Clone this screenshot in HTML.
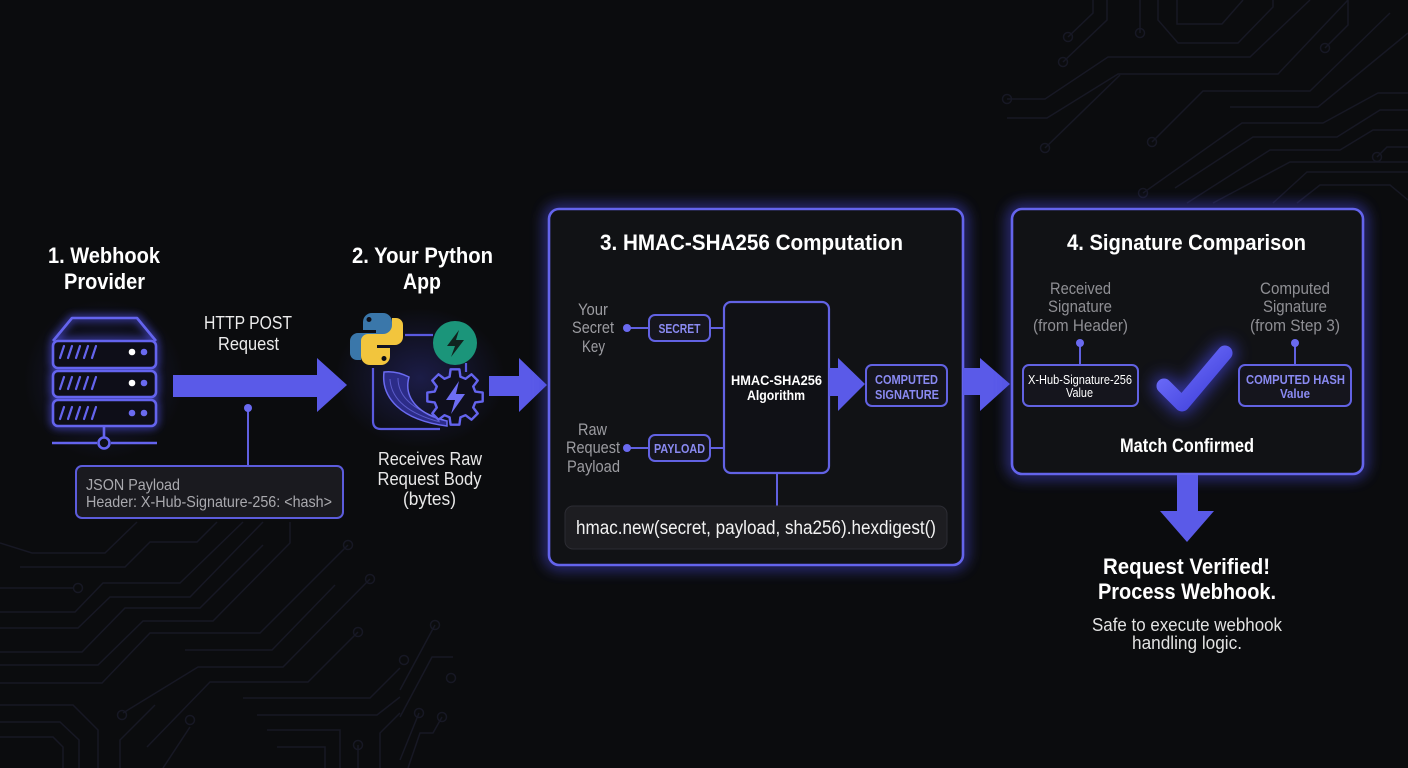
<!DOCTYPE html>
<html><head><meta charset="utf-8"><style>
html,body{margin:0;padding:0;background:#0b0c0e;}
svg{display:block;}
text{font-family:"Liberation Sans",sans-serif;}
</style></head><body>
<svg width="1408" height="768" viewBox="0 0 1408 768" xmlns="http://www.w3.org/2000/svg">
<defs>
<filter id="glow" x="-20%" y="-20%" width="140%" height="140%"><feGaussianBlur stdDeviation="7"/></filter>
<filter id="glowS" x="-50%" y="-50%" width="200%" height="200%"><feGaussianBlur stdDeviation="4"/></filter>
<filter id="glowC" filterUnits="userSpaceOnUse" x="1100" y="290" width="200" height="180"><feGaussianBlur stdDeviation="8"/></filter>
<radialGradient id="appglow" cx="50%" cy="50%" r="50%"><stop offset="0" stop-color="#3a3ab0" stop-opacity="0.35"/><stop offset="1" stop-color="#3a3ab0" stop-opacity="0"/></radialGradient>
<radialGradient id="srvglow" cx="50%" cy="50%" r="50%"><stop offset="0" stop-color="#3a3ab0" stop-opacity="0.3"/><stop offset="1" stop-color="#3a3ab0" stop-opacity="0"/></radialGradient>
<linearGradient id="chk" x1="0" y1="0" x2="1" y2="1"><stop offset="0" stop-color="#7474ff"/><stop offset="1" stop-color="#3c3cd8"/></linearGradient>
</defs>
<rect width="1408" height="768" fill="#0b0c0e"/>

<!-- circuit background top-right -->
<g fill="none" stroke="#171824" stroke-width="1.5">
<polyline points="1007,99 1045,99 1108,57 1250,57 1310,0"/>
<polyline points="1007,118 1047,118 1118,74 1278,74 1348,0"/>
<polyline points="1045,148 1120,75"/>
<polyline points="1152,142 1203,91 1310,91 1390,13"/>
<polyline points="1230,107 1318,107 1408,33"/>
<polyline points="1143,193 1242,123 1323,123 1378,93 1408,93"/>
<polyline points="1068,37 1093,13 1093,0"/>
<polyline points="1063,62 1107,20 1107,0"/>
<polyline points="1140,33 1140,0"/>
<polyline points="1158,0 1158,20 1178,43 1238,43 1273,7 1273,0"/>
<polyline points="1177,0 1177,24 1222,24 1243,0"/>
<polyline points="1325,48 1348,25 1348,0"/>
<polyline points="1175,188 1253,137 1337,137 1380,110 1408,110"/>
<polyline points="1187,203 1270,150 1340,150 1373,130 1408,130"/>
<polyline points="1377,157 1387,147 1408,147"/>
<polyline points="1213,203 1290,162 1357,162 1408,162"/>
<polyline points="1273,203 1307,172 1408,172"/>
<polyline points="1297,203 1320,185 1390,185 1408,200"/>
<circle cx="1007" cy="99" r="4.5"/><circle cx="1045" cy="148" r="4.5"/><circle cx="1068" cy="37" r="4.5"/>
<circle cx="1063" cy="62" r="4.5"/><circle cx="1140" cy="33" r="4.5"/><circle cx="1325" cy="48" r="4.5"/>
<circle cx="1152" cy="142" r="4.5"/><circle cx="1143" cy="193" r="4.5"/><circle cx="1377" cy="157" r="4.5"/>
</g>
<!-- circuit background bottom-left -->
<g fill="none" stroke="#171824" stroke-width="1.5">
<polyline points="0,543 32,553 105,553 137,522"/>
<polyline points="20,567 125,567 150,542 197,542 217,522"/>
<polyline points="0,588 74,588"/>
<polyline points="0,612 75,612 103,583 180,583 243,522"/>
<polyline points="0,628 78,628 110,597 190,597 263,522"/>
<polyline points="0,652 82,652 125,608 200,608 263,545"/>
<polyline points="0,665 98,665 143,621 213,621 290,543 290,522"/>
<polyline points="0,683 102,683 150,633 260,633 348,545"/>
<polyline points="185,650 272,650 335,585"/>
<polyline points="123,713 198,667 283,667 370,579"/>
<polyline points="147,747 210,682 308,682 358,632"/>
<polyline points="0,705 73,705 98,730 98,768"/>
<polyline points="0,722 60,722 79,740 79,768"/>
<polyline points="0,737 53,737 63,747 63,768"/>
<polyline points="120,768 120,740 155,705"/>
<polyline points="163,768 190,727"/>
<polyline points="243,698 370,698 400,668"/>
<polyline points="257,715 377,715 400,697"/>
<polyline points="267,730 340,730 340,768"/>
<polyline points="277,747 325,747 325,768"/>
<polyline points="358,745 358,768"/>
<polyline points="380,768 380,733 400,713"/>
<polyline points="435,625 400,690"/>
<polyline points="453,657 432,657 400,717"/>
<polyline points="442,717 433,733 420,733 408,768"/>
<polyline points="419,713 400,760"/>
<circle cx="78" cy="588" r="4.5"/><circle cx="348" cy="545" r="4.5"/><circle cx="370" cy="579" r="4.5"/>
<circle cx="358" cy="632" r="4.5"/><circle cx="122" cy="715" r="4.5"/><circle cx="190" cy="720" r="4.5"/>
<circle cx="358" cy="745" r="4.5"/><circle cx="435" cy="625" r="4.5"/><circle cx="404" cy="660" r="4.5"/>
<circle cx="451" cy="678" r="4.5"/><circle cx="442" cy="717" r="4.5"/><circle cx="419" cy="713" r="4.5"/>
</g>

<!-- ===== 1. Webhook Provider ===== -->
<text x="104" y="263" text-anchor="middle" font-size="22" font-weight="bold" fill="#fff" textLength="112" lengthAdjust="spacingAndGlyphs">1. Webhook</text>
<text x="104.5" y="289" text-anchor="middle" font-size="22" font-weight="bold" fill="#fff" textLength="81" lengthAdjust="spacingAndGlyphs">Provider</text>

<ellipse cx="104" cy="380" rx="80" ry="80" fill="url(#srvglow)"/>
<g fill="none" stroke="#6464ee" stroke-width="2.6" stroke-linejoin="round">
  <g filter="url(#glowS)" opacity="0.8" stroke="#5050e8" stroke-width="5">
    <path d="M53 341 L72 318 H137 L156 341"/>
    <rect x="53" y="341" width="103" height="27" rx="5"/>
    <rect x="53" y="371" width="103" height="26" rx="5"/>
    <rect x="53" y="400" width="103" height="26" rx="5"/>
  </g>
  <path d="M53 341 L72 318 H137 L156 341"/>
  <rect x="53" y="341" width="103" height="27" rx="5" fill="#0e0e18"/>
  <rect x="53" y="371" width="103" height="26" rx="5" fill="#0e0e18"/>
  <rect x="53" y="400" width="103" height="26" rx="5" fill="#0e0e18"/>
  <line x1="104" y1="426" x2="104" y2="437"/>
  <circle cx="104" cy="443" r="5.5"/>
  <line x1="52" y1="443" x2="97" y2="443"/>
  <line x1="111" y1="443" x2="157" y2="443"/>
  <g stroke-width="2.2" stroke-linecap="round">
    <path d="M64 346 L60 358 M72 346 L68 358 M80 346 L76 358 M88 346 L84 358 M96 346 L92 358"/>
    <path d="M64 377 L60 389 M72 377 L68 389 M80 377 L76 389 M88 377 L84 389 M96 377 L92 389"/>
    <path d="M64 407 L60 419 M72 407 L68 419 M80 407 L76 419 M88 407 L84 419 M96 407 L92 419"/>
  </g>
</g>
<circle cx="132" cy="352" r="3.3" fill="#fff"/><circle cx="144" cy="352" r="3.3" fill="#6a6af0"/>
<circle cx="132" cy="383" r="3.3" fill="#fff"/><circle cx="144" cy="383" r="3.3" fill="#6a6af0"/>
<circle cx="132" cy="413" r="3.3" fill="#6a6af0"/><circle cx="144" cy="413" r="3.3" fill="#6a6af0"/>

<!-- arrow 1 -->
<text x="248" y="329" text-anchor="middle" font-size="18" fill="#ececec" textLength="88" lengthAdjust="spacingAndGlyphs">HTTP POST</text>
<text x="248.5" y="350" text-anchor="middle" font-size="18" fill="#ececec" textLength="61" lengthAdjust="spacingAndGlyphs">Request</text>
<path d="M173 375 H317 V358 L347 385 L317 412 V397 H173 Z" fill="#5a5ae8"/>
<line x1="248" y1="408" x2="248" y2="466" stroke="#6060e0" stroke-width="2"/>
<circle cx="248" cy="408" r="4" fill="#6a6af0"/>
<rect x="76" y="466" width="267" height="52" rx="6" fill="#1a1a1f" stroke="#5c5cdc" stroke-width="2"/>
<text x="86" y="490" font-size="16" fill="#a9a9ae" textLength="94" lengthAdjust="spacingAndGlyphs">JSON Payload</text>
<text x="86" y="507" font-size="16" fill="#a9a9ae" textLength="246" lengthAdjust="spacingAndGlyphs">Header: X-Hub-Signature-256: &lt;hash&gt;</text>

<!-- ===== 2. Your Python App ===== -->
<text x="422.5" y="263" text-anchor="middle" font-size="22" font-weight="bold" fill="#fff" textLength="141" lengthAdjust="spacingAndGlyphs">2. Your Python</text>
<text x="422" y="289" text-anchor="middle" font-size="22" font-weight="bold" fill="#fff" textLength="38" lengthAdjust="spacingAndGlyphs">App</text>
<ellipse cx="420" cy="378" rx="85" ry="70" fill="url(#appglow)"/>
<g fill="none" stroke="#5a5ae0" stroke-width="2.2">
  <line x1="405" y1="335" x2="433" y2="335"/>
  <line x1="466" y1="363" x2="466" y2="372"/>
  <path d="M373 368 V421 Q373 429 381 429 H440"/>
</g>
<!-- python logo -->
<g transform="translate(350,313)">
  <path d="M22 0 h11 a9 9 0 0 1 9 9 v15 a7 7 0 0 1 -7 7 h-15 a9 9 0 0 0 -9 9 v7 h-4 a7 7 0 0 1 -7 -7 v-12 a8 8 0 0 1 8 -8 h18 v-3 h-13 v-8 a9 9 0 0 1 9 -9 z" fill="#3a77aa"/>
  <circle cx="19" cy="6.5" r="2.5" fill="#0e0e16"/>
  <g transform="rotate(180 26.5 26)">
    <path d="M22 0 h11 a9 9 0 0 1 9 9 v15 a7 7 0 0 1 -7 7 h-15 a9 9 0 0 0 -9 9 v7 h-4 a7 7 0 0 1 -7 -7 v-12 a8 8 0 0 1 8 -8 h18 v-3 h-13 v-8 a9 9 0 0 1 9 -9 z" fill="#f2c53d"/>
    <circle cx="19" cy="6.5" r="2.5" fill="#0e0e16"/>
  </g>
</g>
<!-- teal circle -->
<circle cx="455" cy="343" r="22" fill="#1b957a"/>
<path d="M459 330 L447 346 H455 L451 357 L464 340 H456 Z" fill="#10231f"/>
<!-- horn -->
<path d="M384 372 C381 397 400 420 447 426 L447 421 C420 415 403 399 409 377 C401 373 392 371 384 372 Z" fill="#2c2c88" stroke="#6a6af0" stroke-width="1.5"/>
<path d="M390 379 C391 398 406 413 440 422 M398 378 C398 396 411 409 444 420" fill="none" stroke="#7a7af5" stroke-width="1" opacity="0.6"/>
<!-- gear -->
<g transform="translate(455,397)">
  <polygon fill="#0f0f1c" stroke="#6464ee" stroke-width="2.4" stroke-linejoin="round" points="20.3,-5.4 27.7,-4.4 27.7,4.4 20.3,5.4 18.2,10.5 22.7,16.5 16.5,22.7 10.5,18.2 5.4,20.3 4.4,27.7 -4.4,27.7 -5.4,20.3 -10.5,18.2 -16.5,22.7 -22.7,16.5 -18.2,10.5 -20.3,5.4 -27.7,4.4 -27.7,-4.4 -20.3,-5.4 -18.2,-10.5 -22.7,-16.5 -16.5,-22.7 -10.5,-18.2 -5.4,-20.3 -4.4,-27.7 4.4,-27.7 5.4,-20.3 10.5,-18.2 16.5,-22.7 22.7,-16.5 18.2,-10.5"/>
  <path d="M4 -16 L-9 3 H0 L-4 17 L10 -3 H1 Z" fill="#6e6ef4"/>
</g>
<text x="430" y="465" text-anchor="middle" font-size="18" fill="#e8e8e8" textLength="104" lengthAdjust="spacingAndGlyphs">Receives Raw</text>
<text x="429.5" y="485" text-anchor="middle" font-size="18" fill="#e8e8e8" textLength="104" lengthAdjust="spacingAndGlyphs">Request Body</text>
<text x="429.5" y="505" text-anchor="middle" font-size="18" fill="#e8e8e8" textLength="53" lengthAdjust="spacingAndGlyphs">(bytes)</text>

<!-- arrow 2 -->
<path d="M489 376 H519 V358 L547 385 L519 412 V396 H489 Z" fill="#5a5ae8"/>

<!-- ===== Box 3 ===== -->
<rect x="549" y="209" width="414" height="356" rx="10" fill="none" stroke="#4848e0" stroke-width="8" filter="url(#glow)" opacity="0.75"/>
<rect x="549" y="209" width="414" height="356" rx="10" fill="#111215" stroke="#6464ec" stroke-width="2.6"/>
<text x="751.5" y="250" text-anchor="middle" font-size="22" font-weight="bold" fill="#fff" textLength="303" lengthAdjust="spacingAndGlyphs">3. HMAC-SHA256 Computation</text>

<text x="593" y="315" text-anchor="middle" font-size="17" fill="#9c9ca1" textLength="30" lengthAdjust="spacingAndGlyphs">Your</text>
<text x="593" y="333" text-anchor="middle" font-size="17" fill="#9c9ca1" textLength="42" lengthAdjust="spacingAndGlyphs">Secret</text>
<text x="593.5" y="352" text-anchor="middle" font-size="17" fill="#9c9ca1" textLength="23" lengthAdjust="spacingAndGlyphs">Key</text>
<text x="592.5" y="435" text-anchor="middle" font-size="17" fill="#9c9ca1" textLength="29" lengthAdjust="spacingAndGlyphs">Raw</text>
<text x="593" y="453" text-anchor="middle" font-size="17" fill="#9c9ca1" textLength="54" lengthAdjust="spacingAndGlyphs">Request</text>
<text x="593.5" y="472" text-anchor="middle" font-size="17" fill="#9c9ca1" textLength="53" lengthAdjust="spacingAndGlyphs">Payload</text>

<g stroke="#6060e0" stroke-width="2" fill="none">
  <line x1="627" y1="328" x2="649" y2="328"/>
  <line x1="710" y1="328" x2="724" y2="328"/>
  <line x1="627" y1="448" x2="649" y2="448"/>
  <line x1="710" y1="448" x2="724" y2="448"/>
  <line x1="777" y1="473" x2="777" y2="506"/>
</g>
<circle cx="627" cy="328" r="4" fill="#6a6af0"/>
<circle cx="627" cy="448" r="4" fill="#6a6af0"/>
<rect x="649" y="315" width="61" height="26" rx="6" fill="#15151d" stroke="#6262e2" stroke-width="2"/>
<text x="679.5" y="333" text-anchor="middle" font-size="13" font-weight="bold" fill="#8a8af2" textLength="42" lengthAdjust="spacingAndGlyphs">SECRET</text>
<rect x="649" y="435" width="61" height="26" rx="6" fill="#15151d" stroke="#6262e2" stroke-width="2"/>
<text x="679.5" y="453" text-anchor="middle" font-size="13" font-weight="bold" fill="#8a8af2" textLength="51" lengthAdjust="spacingAndGlyphs">PAYLOAD</text>

<rect x="724" y="302" width="105" height="171" rx="7" fill="#101116" stroke="#6262e4" stroke-width="2.2"/>
<text x="776.5" y="385" text-anchor="middle" font-size="14" font-weight="bold" fill="#fff" textLength="91" lengthAdjust="spacingAndGlyphs">HMAC-SHA256</text>
<text x="776" y="400" text-anchor="middle" font-size="14" font-weight="bold" fill="#fff" textLength="58" lengthAdjust="spacingAndGlyphs">Algorithm</text>

<path d="M829 368 H838 V358 L865 384 L838 411 V396 H829 Z" fill="#5a5ae8"/>
<rect x="866" y="365" width="81" height="41" rx="6" fill="#15151d" stroke="#6262e2" stroke-width="2"/>
<text x="906.5" y="384" text-anchor="middle" font-size="13" font-weight="bold" fill="#8a8af2" textLength="63" lengthAdjust="spacingAndGlyphs">COMPUTED</text>
<text x="907" y="399" text-anchor="middle" font-size="13" font-weight="bold" fill="#8a8af2" textLength="64" lengthAdjust="spacingAndGlyphs">SIGNATURE</text>

<rect x="565" y="506" width="382" height="43" rx="8" fill="#1d1d21" stroke="#2c2c33" stroke-width="1"/>
<text x="756" y="534" text-anchor="middle" font-size="19" fill="#f2f2f2" textLength="360" lengthAdjust="spacingAndGlyphs">hmac.new(secret, payload, sha256).hexdigest()</text>

<!-- arrow 3 -->
<path d="M963 368 H980 V358 L1010 384 L980 411 V395 H963 Z" fill="#5a5ae8"/>

<!-- ===== Box 4 ===== -->
<rect x="1012" y="209" width="351" height="265" rx="10" fill="none" stroke="#4848e0" stroke-width="8" filter="url(#glow)" opacity="0.75"/>
<rect x="1012" y="209" width="351" height="265" rx="10" fill="#111215" stroke="#6464ec" stroke-width="2.6"/>
<text x="1186.5" y="250" text-anchor="middle" font-size="22" font-weight="bold" fill="#fff" textLength="239" lengthAdjust="spacingAndGlyphs">4. Signature Comparison</text>

<text x="1080.5" y="294" text-anchor="middle" font-size="17" fill="#8f8f94" textLength="61" lengthAdjust="spacingAndGlyphs">Received</text>
<text x="1080" y="312" text-anchor="middle" font-size="17" fill="#8f8f94" textLength="64" lengthAdjust="spacingAndGlyphs">Signature</text>
<text x="1080.5" y="331" text-anchor="middle" font-size="17" fill="#8f8f94" textLength="95" lengthAdjust="spacingAndGlyphs">(from Header)</text>
<text x="1295" y="294" text-anchor="middle" font-size="17" fill="#8f8f94" textLength="70" lengthAdjust="spacingAndGlyphs">Computed</text>
<text x="1295" y="312" text-anchor="middle" font-size="17" fill="#8f8f94" textLength="64" lengthAdjust="spacingAndGlyphs">Signature</text>
<text x="1295" y="331" text-anchor="middle" font-size="17" fill="#8f8f94" textLength="90" lengthAdjust="spacingAndGlyphs">(from Step 3)</text>

<g stroke="#6060e0" stroke-width="2">
  <line x1="1080" y1="343" x2="1080" y2="365"/>
  <line x1="1295" y1="343" x2="1295" y2="365"/>
</g>
<circle cx="1080" cy="343" r="4" fill="#6a6af0"/>
<circle cx="1295" cy="343" r="4" fill="#6a6af0"/>

<rect x="1023" y="365" width="115" height="41" rx="6" fill="#15151d" stroke="#6262e2" stroke-width="2"/>
<text x="1080" y="384" text-anchor="middle" font-size="13" fill="#fff" textLength="104" lengthAdjust="spacingAndGlyphs">X-Hub-Signature-256</text>
<text x="1079.5" y="397" text-anchor="middle" font-size="13" fill="#fff" textLength="27" lengthAdjust="spacingAndGlyphs">Value</text>
<rect x="1239" y="365" width="112" height="41" rx="6" fill="#15151d" stroke="#6262e2" stroke-width="2"/>
<text x="1295.5" y="384" text-anchor="middle" font-size="13" font-weight="bold" fill="#8a8af2" textLength="99" lengthAdjust="spacingAndGlyphs">COMPUTED HASH</text>
<text x="1295" y="398" text-anchor="middle" font-size="13" font-weight="bold" fill="#8a8af2" textLength="30" lengthAdjust="spacingAndGlyphs">Value</text>

<polyline points="1164,386 1182,404 1225,353" fill="none" stroke="#4a4af0" stroke-width="22" stroke-linecap="round" stroke-linejoin="round" filter="url(#glowC)" opacity="0.6"/>
<polyline points="1164,386 1182,404 1225,353" fill="none" stroke="url(#chk)" stroke-width="15" stroke-linecap="round" stroke-linejoin="round"/>

<text x="1187" y="452" text-anchor="middle" font-size="19" font-weight="bold" fill="#fff" textLength="134" lengthAdjust="spacingAndGlyphs">Match Confirmed</text>

<!-- down arrow -->
<path d="M1177 475 H1198 V511 H1214 L1187 542 L1160 511 H1177 Z" fill="#5a5ae8"/>

<text x="1186.5" y="574" text-anchor="middle" font-size="22" font-weight="bold" fill="#fff" textLength="167" lengthAdjust="spacingAndGlyphs">Request Verified!</text>
<text x="1187" y="599" text-anchor="middle" font-size="22" font-weight="bold" fill="#fff" textLength="178" lengthAdjust="spacingAndGlyphs">Process Webhook.</text>
<text x="1187" y="631" text-anchor="middle" font-size="18" fill="#e2e2e2" textLength="190" lengthAdjust="spacingAndGlyphs">Safe to execute webhook</text>
<text x="1187" y="649" text-anchor="middle" font-size="18" fill="#e2e2e2" textLength="110" lengthAdjust="spacingAndGlyphs">handling logic.</text>
</svg>
</body></html>
